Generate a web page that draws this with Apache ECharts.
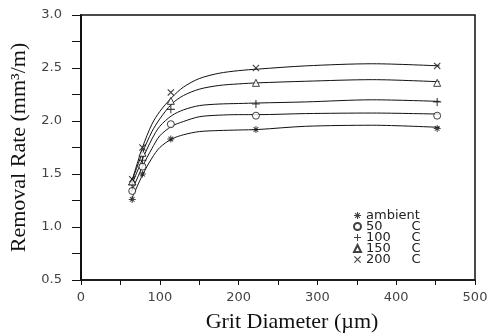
<!DOCTYPE html>
<html>
<head>
<meta charset="utf-8">
<script src="https://cdn.jsdelivr.net/npm/echarts@6/dist/echarts.min.js"></script>
<style>
  html, body { margin: 0; padding: 0; background: #fff; }
  #chart { width: 493px; height: 334px; }
</style>
</head>
<body>
<div id="chart"></div>
<script>
// grit diameter (um) of the measured points
var gritSize = [65, 78, 114, 222, 452];

// measured removal rate (mm3/m) per temperature
var ambient = [1.26, 1.50, 1.83, 1.92, 1.93];
var temp50 = [1.34, 1.57, 1.97, 2.05, 2.05];
var temp100 = [1.40, 1.63, 2.11, 2.16, 2.18];
var temp150 = [1.43, 1.70, 2.19, 2.36, 2.36];
var temp200 = [1.45, 1.75, 2.27, 2.50, 2.52];

// fitted curves
var curveX = [64, 78, 90, 100, 115, 130, 150, 175, 200, 225, 285, 370, 455];
var curveAmbient = [1.26, 1.49, 1.65, 1.75, 1.83, 1.87, 1.90, 1.91, 1.915, 1.92, 1.95, 1.96, 1.94];
var curve50 = [1.33, 1.57, 1.74, 1.86, 1.95, 1.995, 2.04, 2.055, 2.06, 2.06, 2.07, 2.075, 2.065];
var curve100 = [1.39, 1.64, 1.83, 1.95, 2.05, 2.105, 2.145, 2.16, 2.165, 2.17, 2.18, 2.20, 2.185];
var curve150 = [1.42, 1.70, 1.90, 2.02, 2.16, 2.24, 2.30, 2.335, 2.35, 2.36, 2.375, 2.39, 2.37];
var curve200 = [1.42, 1.75, 1.97, 2.09, 2.22, 2.32, 2.40, 2.45, 2.475, 2.49, 2.52, 2.54, 2.52];

var seriesNames = ['ambient', '50       C', '100     C', '150     C', '200     C'];
var yTicks = [0.5, 1.0, 1.5, 2.0, 2.5, 3.0];
var xTicks = [0, 100, 200, 300, 400, 500];

// marker shapes
var plusPath = 'path://M4.3,0H5.7V4.3H10V5.7H5.7V10H4.3V5.7H0V4.3H4.3Z';
var crossPath = 'path://M1.5,0.5L5,4L8.5,0.5L9.5,1.5L6,5L9.5,8.5L8.5,9.5L5,6L1.5,9.5L0.5,8.5L4,5L0.5,1.5Z';
var starPath = plusPath +
    'M1.2,2.2L2.2,1.2L5,4L7.8,1.2L8.8,2.2L6,5L8.8,7.8L7.8,8.8L5,6L2.2,8.8L1.2,7.8L4,5Z';

function pairs(xs, vals) {
    return xs.map(function (x, i) { return [x, vals[i]]; });
}

function markers(name, vals, symbol, size, hollow) {
    return {
        name: name,
        type: 'scatter',
        data: pairs(gritSize, vals),
        symbol: symbol,
        symbolSize: size,
        itemStyle: hollow ?
            { color: '#fff', borderColor: '#111', borderWidth: 1 } :
            { color: '#111', borderWidth: 0 },
        emphasis: { disabled: true },
        z: 3
    };
}

function curve(name, vals) {
    return {
        name: name,
        type: 'line',
        data: pairs(curveX, vals),
        smooth: 0.3,
        symbol: 'none',
        lineStyle: { color: '#111', width: 1 },
        emphasis: { disabled: true },
        z: 2
    };
}

var chart = echarts.init(document.getElementById('chart'));
var option = {
    animation: false,
    backgroundColor: '#fff',
    grid: {
        left: 81, right: 18, top: 15, bottom: 54,
        outerBoundsMode: 'none',
        show: true,
        borderColor: '#111',
        borderWidth: 1.5,
        backgroundColor: 'transparent'
    },
    legend: {
        orient: 'vertical',
        left: 348,
        top: 204,
        itemWidth: 7,
        itemHeight: 7,
        itemGap: -2,
        selectedMode: false,
        textStyle: {
            fontFamily: 'DejaVu Sans',
            fontSize: 13,
            color: '#222'
        },
        data: [
            { name: seriesNames[0], icon: starPath },
            { name: seriesNames[1], icon: 'circle' },
            { name: seriesNames[2], icon: plusPath },
            { name: seriesNames[3], icon: 'triangle' },
            { name: seriesNames[4], icon: crossPath }
        ]
    },
    xAxis: {
        type: 'value',
        min: xTicks[0],
        max: xTicks[xTicks.length - 1],
        interval: 100,
        name: 'Grit Diameter (µm)',
        nameLocation: 'middle',
        nameGap: 31,
        nameTextStyle: {
            fontFamily: 'Liberation Serif', fontSize: 22, color: '#111',
            padding: [0, 0, 0, 28]
        },
        axisLine: { lineStyle: { color: '#111', width: 1.5 } },
        axisTick: { show: true, length: 5, lineStyle: { color: '#111' } },
        minorTick: { show: true, splitNumber: 2, length: 5, lineStyle: { color: '#111' } },
        splitLine: { show: false },
        axisLabel: {
            margin: 11,
            fontFamily: 'DejaVu Sans',
            fontSize: 13,
            color: '#444'
        }
    },
    yAxis: {
        type: 'value',
        min: yTicks[0],
        max: yTicks[yTicks.length - 1],
        interval: 0.5,
        name: 'Removal Rate (mm³/m)',
        nameLocation: 'middle',
        nameGap: 43,
        nameTextStyle: { fontFamily: 'Liberation Serif', fontSize: 22, color: '#111' },
        axisLine: { show: true, lineStyle: { color: '#111', width: 2 } },
        axisTick: { show: true, length: 9, lineStyle: { color: '#111' } },
        minorTick: { show: true, splitNumber: 2, length: 9, lineStyle: { color: '#111' } },
        splitLine: { show: false },
        axisLabel: {
            margin: 19,
            fontFamily: 'DejaVu Sans',
            fontSize: 13,
            color: '#444',
            formatter: function (v) { return v.toFixed(1); }
        }
    },
    series: [
        markers(seriesNames[0], ambient, starPath, 7, false),
        markers(seriesNames[1], temp50, 'circle', 7, true),
        markers(seriesNames[2], temp100, plusPath, 8, false),
        markers(seriesNames[3], temp150, 'triangle', 7, true),
        markers(seriesNames[4], temp200, crossPath, 7, false),
        curve('ambient fit', curveAmbient),
        curve('50 C fit', curve50),
        curve('100 C fit', curve100),
        curve('150 C fit', curve150),
        curve('200 C fit', curve200)
    ]
};
chart.setOption(option);
</script>
</body>
</html>
